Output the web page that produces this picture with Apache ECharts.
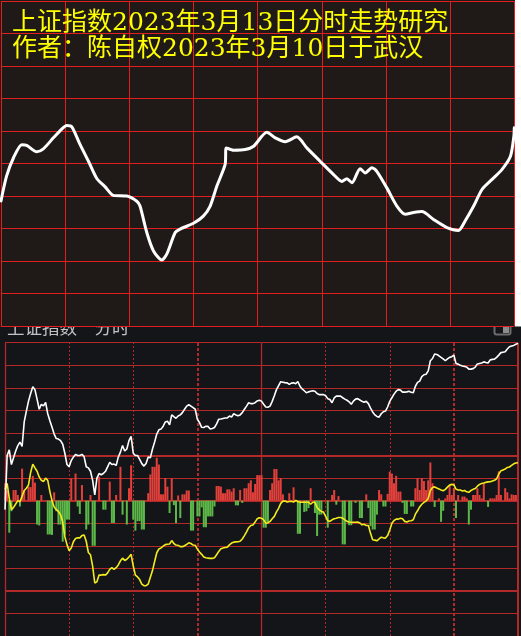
<!DOCTYPE html>
<html><head><meta charset="utf-8">
<script src="https://cdn.jsdelivr.net/npm/echarts@6/dist/echarts.min.js"></script>
<style>html,body{margin:0;padding:0;background:#141519;}#c{width:521px;height:636px;}</style>
</head><body><div id="c"></div>
<script>
// ---- text ----
const titleLines = ['上证指数2023年3月13日分时走势研究', '作者：陈自权2023年3月10日于武汉'];
const panelLabel = '上证指数\u3000分时';

// ---- top panel: forecast curve, [minute, level in grid rows] ----
const forecastCurve = [
  [0,3.85],[2.6,4.61],[5.8,5.17],[9.7,5.58],[12,5.56],[16.7,5.36],[19.8,5.45],[24.5,5.79],
  [28.4,6.06],[30.7,6.17],[33.1,6.13],[37,5.58],[40.9,5.07],[44.8,4.54],[48.7,4.28],[52.5,4.02],
  [58.8,4.0],[63.5,3.84],[65,3.69],[68.2,2.87],[71.3,2.31],[75.2,2.03],[77.5,2.21],[81.4,2.87],
  [83.7,2.98],[90,3.16],[94.6,3.38],[97.8,3.69],[100.9,4.3],[104.8,4.97],[105.3,5.48],[108.7,5.41],
  [114.2,5.43],[118.1,5.53],[124.3,5.96],[128.2,5.79],[132.9,5.67],[138.3,5.82],[143,5.48],[149.2,5.07],
  [155.5,4.66],[159.4,4.45],[161.7,4.53],[164.1,4.41],[167.9,4.84],[170.3,4.71],[173.4,4.87],[175.7,4.76],
  [180.4,4.25],[185.1,3.69],[189,3.44],[192.9,3.49],[196.8,3.52],[202.2,3.28],[208.5,3.03],[213.9,2.94],
  [217,3.23],[221,3.69],[224.9,4.2],[229.6,4.51],[234.3,4.82],[238.2,5.22],[239.8,5.84],[240,6.1]
];

// ---- bottom panel: per-minute values (index = minute 0..240), in grid rows ----
const priceValues = [
  -2.4,0.0,0.25,-0.4,-0.1,0.2,0.44,0.59,0.4,1.5,
  1.97,2.41,2.75,3.05,2.92,2.5,2.05,2.27,2.2,2.35,
  1.85,1.54,1.25,0.95,0.75,0.73,0.66,0.5,0.1,-0.4,
  -0.5,-0.22,-0.07,0.05,0.0,0.0,0.05,-0.05,-0.5,-0.55,
  -0.7,-1.1,-1.75,-1.0,-0.8,-0.85,-0.8,-0.7,-0.5,-0.3,
  -0.4,-0.38,-0.44,-0.07,0.15,0.44,0.2,0.29,0.66,0.85,
  0.1,0.0,0.0,-0.17,-0.36,-0.47,-0.35,-0.07,-0.1,0.29,
  0.6,0.95,1.14,1.17,1.3,1.49,1.52,1.36,1.8,1.72,
  1.65,1.75,1.8,1.9,2.05,2.19,2.25,2.19,2.12,2.05,
  1.6,1.46,1.25,1.24,1.3,1.29,1.17,1.2,1.24,1.4,
  1.61,1.62,1.64,1.66,1.67,1.75,1.71,1.85,1.8,1.76,
  1.8,1.9,2.05,2.19,2.34,2.3,2.3,2.34,2.42,2.45,
  2.41,2.27,2.15,2.14,2.19,2.4,2.65,2.92,3.1,3.27,
  3.25,3.23,3.22,3.15,3.21,3.22,3.18,3.28,3.07,2.95,
  2.87,2.78,2.82,2.85,2.87,2.85,2.75,2.7,2.7,2.7,
  2.65,2.52,2.48,2.34,2.55,2.63,2.63,2.63,2.56,2.5,
  2.45,2.38,2.27,2.41,2.5,2.52,2.46,2.4,2.36,2.4,
  2.3,2.1,1.93,1.8,1.73,1.7,1.85,1.94,1.97,2.15,
  2.4,2.56,2.72,2.85,2.92,2.9,2.81,2.81,2.82,2.85,
  2.8,2.78,3.07,3.24,3.3,3.5,3.58,3.6,3.75,4.2,
  4.3,4.5,4.48,4.42,4.35,4.28,4.2,4.28,4.35,4.38,
  4.45,4.08,4.05,4.0,3.97,3.95,3.92,3.83,3.83,3.85,
  3.92,4.06,4.08,4.1,4.15,4.12,4.1,4.24,4.26,4.27,
  4.35,4.45,4.56,4.58,4.6,4.72,4.82,4.85,4.88,4.93,
  4.97
];
const leadValues = [
  -1.5,-1.24,-1.9,-2.4,-2.3,-2.15,-2.0,-2.05,-1.8,-1.55,
  -1.45,-1.3,-0.75,-0.38,-0.55,-0.7,-0.95,-1.1,-1.15,-1.0,
  -1.1,-1.6,-2.0,-2.28,-2.4,-2.48,-2.63,-2.95,-3.6,-3.95,
  -4.22,-4.1,-3.82,-3.68,-3.65,-3.65,-3.55,-3.52,-3.8,-4.3,
  -4.4,-4.9,-5.65,-5.6,-5.3,-5.3,-5.28,-5.3,-5.2,-5.05,
  -4.97,-5.05,-4.97,-4.85,-4.67,-4.55,-4.65,-4.6,-4.5,-4.38,
  -4.9,-5.3,-5.38,-5.5,-5.7,-5.77,-5.77,-5.7,-5.4,-5.1,
  -4.7,-4.31,-4.14,-4.1,-4.02,-3.95,-3.93,-3.92,-3.77,-3.9,
  -3.97,-3.98,-4.04,-4.04,-4.0,-3.94,-3.87,-3.9,-3.97,-3.98,
  -4.15,-4.28,-4.38,-4.5,-4.53,-4.55,-4.56,-4.56,-4.53,-4.4,
  -4.25,-4.13,-4.1,-4.08,-4.06,-3.96,-3.88,-3.84,-3.83,-3.82,
  -3.8,-3.7,-3.55,-3.38,-3.2,-3.1,-3.08,-2.95,-2.8,-2.76,
  -2.78,-2.85,-3.0,-2.99,-2.92,-2.8,-2.7,-2.5,-2.34,-2.12,
  -2.02,-2.02,-2.06,-2.04,-2.03,-2.06,-1.99,-2.04,-2.07,-2.07,
  -2.07,-2.07,-2.07,-2.16,-2.07,-2.07,-2.3,-2.41,-2.48,-2.51,
  -2.7,-2.89,-2.92,-2.85,-2.8,-2.78,-2.75,-2.75,-2.78,-2.85,
  -2.92,-2.95,-2.96,-2.96,-2.96,-2.95,-2.99,-3.07,-3.05,-3.1,
  -3.1,-3.45,-3.73,-3.75,-3.78,-3.7,-3.62,-3.65,-3.66,-3.55,
  -3.3,-3.0,-2.88,-2.82,-2.82,-2.78,-2.8,-2.92,-2.95,-2.9,
  -2.89,-2.85,-2.6,-2.45,-2.28,-2.16,-2.08,-2.02,-1.9,-1.55,
  -1.42,-1.39,-1.44,-1.48,-1.53,-1.56,-1.5,-1.4,-1.31,-1.28,
  -1.3,-1.49,-1.53,-1.53,-1.57,-1.55,-1.61,-1.63,-1.55,-1.5,
  -1.46,-1.36,-1.28,-1.24,-1.22,-1.19,-1.17,-1.16,-1.13,-1.1,
  -1.03,-0.82,-0.68,-0.64,-0.6,-0.53,-0.51,-0.44,-0.37,-0.33,
  -0.32
];
const netValues = [
  0.77,0.45,-1.42,-0.47,0.47,0.47,0.25,-0.26,1.42,0.47,
  0,0.62,0.6,1.1,0.8,-1.06,-1.1,0.25,0,0,
  -1.5,-1.5,-1.52,0.37,-0.47,-1.06,-1.06,-1.82,-1.5,-0.84,
  -0.84,0.99,0,1.2,-0.26,-0.59,0.69,0,-1.28,-1.06,
  0.25,-2.0,-2.0,0,1.06,0,-0.4,-0.4,0,0.84,
  -0.99,-0.99,0.25,0,1.5,-0.62,0,-1.06,0.55,1.57,
  -0.84,-1.33,-0.91,-0.91,-1.28,-1.28,0,0.33,1.16,1.5,
  1.5,1.9,1.6,0.28,0.28,1.0,0.62,-0.55,0.99,-0.2,
  -0.99,0.23,-0.77,0.28,0.28,0.45,0.45,-1.33,-1.33,0,
  -0.7,-0.7,-0.3,-1.18,-1.18,-0.7,-0.7,-0.7,-0.26,0.65,
  0.65,0.62,0.33,0.33,0.5,0.5,0.4,0.55,-0.21,-0.21,
  0.47,-0.1,0.55,0.55,0.77,0.9,0.37,0.74,1.13,1.13,
  1.13,-1.2,-1.2,-0.99,0.47,0.77,1.4,1.4,0.9,1.0,
  0.28,0,0,0.33,0,0.59,0,-1.47,-1.47,0,
  -0.5,-0.47,-0.33,0.55,0,-0.55,-1.57,-0.62,-0.62,0,
  0,-1.2,0,0.25,0.47,-0.18,0.2,0,-1.94,-1.94,
  0,-1.09,-1.09,0,-0.1,0,-0.77,-0.77,0,0.28,
  -0.33,-1.13,-1.28,-1.28,-0.62,0.47,0.28,-0.26,-0.26,0.3,
  1.28,1.2,0.77,1.1,0.4,0.4,-0.1,-0.59,-0.59,0,
  -0.26,-0.26,0.55,1.0,0.47,1.0,0.87,0.47,0.9,1.69,
  0.77,-0.28,0,0.1,-0.94,-0.45,0.1,0.25,0.69,0.25,
  0.55,-0.77,0.25,0,0.18,0.18,0.1,-1.06,-0.4,0.25,
  0.25,0.55,0.25,0.1,0.77,0,-0.28,0.1,0.1,0.1,
  0.25,1.3,0.25,0,0.55,0.37,0.1,0.28,0.25,0.25,
  0
];
// vertical reference lines (minutes): solid session bounds / dotted half-hours
const solidMinutes = [0, 120, 240];
const dotMinutes = [30, 60, 150, 180];
const dashMinutes = [90, 210];
// thick horizontal reference lines (grid rows on the price axis)
const thickRows = [0, -2, -6];

const topRed = '#e21f1f';
const lowRed = '#b3292a';

const chart = echarts.init(document.getElementById('c'), null, {renderer: 'canvas'});
const hidden = {axisLine:{show:false}, axisTick:{show:false}, axisLabel:{show:false}};

const markData = []
  .concat(solidMinutes.map(m => ({xAxis: m, lineStyle: {color: lowRed, width: m === 240 ? 2 : 1.3, type: 'solid'}})))
  .concat(dotMinutes.map(m => ({xAxis: m, lineStyle: {color: lowRed, width: 1, type: [2, 2]}})))
  .concat(dashMinutes.map(m => ({xAxis: m, lineStyle: {color: lowRed, width: 2, type: [3, 2]}})))
  .concat(thickRows.map(r => ({yAxis: r, lineStyle: {color: lowRed, width: 2, type: 'solid'}})));

const option = {
  animation: false,
  backgroundColor: '#141519',
  title: {
    text: titleLines.join('\n'),
    left: 12, top: 10, padding: 0,
    textStyle: {color: '#ffff00', fontSize: 25, fontWeight: 'normal',
      fontFamily: '"DejaVu Serif", "Noto Sans CJK SC"', lineHeight: 26.5}
  },
  graphic: {elements: [
    {type: 'text', x: 7, y: 327.6, z: -8, silent: true,
      style: {text: panelLabel, fill: '#c2c2c2', font: '17.5px "Noto Sans CJK SC"', verticalAlign: 'middle'}},
    {type: 'rect', z: -8, silent: true, shape: {x: 494.5, y: 318, width: 16, height: 16.5, r: 2},
      style: {fill: 'none', stroke: '#6c6c6c', lineWidth: 2}},
    {type: 'rect', z: -8, silent: true, shape: {x: 503, y: 318, width: 6, height: 15},
      style: {fill: '#8c8c8c'}},
    {type: 'rect', z: -6, silent: true, shape: {x: 0, y: 0, width: 515, height: 326.5},
      style: {fill: '#1f1a18'}},
    {type: 'rect', z: -6, silent: true, shape: {x: 515, y: 0, width: 6, height: 326.5},
      style: {fill: '#ffffff'}}
  ]},
  grid: [
    {left: 1, top: 1, width: 513.3, height: 325, show: false},
    {left: 5, top: 342.7, width: 513, height: 296.6, show: false}
  ],
  xAxis: [
    Object.assign({type: 'value', gridIndex: 0, min: 0, max: 240, interval: 30,
      splitLine: {show: true, showMinLine: true, showMaxLine: true, lineStyle: {color: topRed, width: 1}}}, hidden),
    Object.assign({type: 'value', gridIndex: 1, min: 0, max: 240, interval: 30,
      splitLine: {show: false}}, hidden)
  ],
  yAxis: [
    Object.assign({type: 'value', gridIndex: 0, min: 0, max: 10, interval: 1,
      splitLine: {show: true, showMinLine: true, showMaxLine: true, lineStyle: {color: topRed, width: 1}}}, hidden),
    Object.assign({type: 'value', gridIndex: 1, min: -8, max: 5, interval: 1,
      splitLine: {show: true, showMinLine: true, showMaxLine: true, lineStyle: {color: lowRed, width: 1}}}, hidden),
    Object.assign({type: 'value', gridIndex: 1, min: -6, max: 7, interval: 1, show: false,
      splitLine: {show: false}}, hidden)
  ],
  series: [
    {type: 'line', name: 'forecast', xAxisIndex: 0, yAxisIndex: 0, data: forecastCurve,
      showSymbol: false, smooth: 0.25, z: 4,
      lineStyle: {color: '#ffffff', width: 3, cap: 'round', join: 'round'}},
    {type: 'bar', name: 'net', xAxisIndex: 1, yAxisIndex: 2, barWidth: 2, z: 2,
      data: netValues.map((v, i) => [i, v]),
      itemStyle: {color: p => p.value[1] >= 0 ? '#e2403b' : '#5cb848'}},
    {type: 'line', name: 'lead', xAxisIndex: 1, yAxisIndex: 1, data: leadValues.map((v, i) => [i, v]),
      showSymbol: false, z: 4, lineStyle: {color: '#f2ec1e', width: 1.6}},
    {type: 'line', name: 'price', xAxisIndex: 1, yAxisIndex: 1, data: priceValues.map((v, i) => [i, v]),
      showSymbol: false, z: 5, lineStyle: {color: '#ffffff', width: 1.6},
      markLine: {silent: true, symbol: ['none', 'none'], label: {show: false}, z: 1,
        emphasis: {disabled: true}, data: markData}}
  ]
};
chart.setOption(option);
</script>
</body></html>
